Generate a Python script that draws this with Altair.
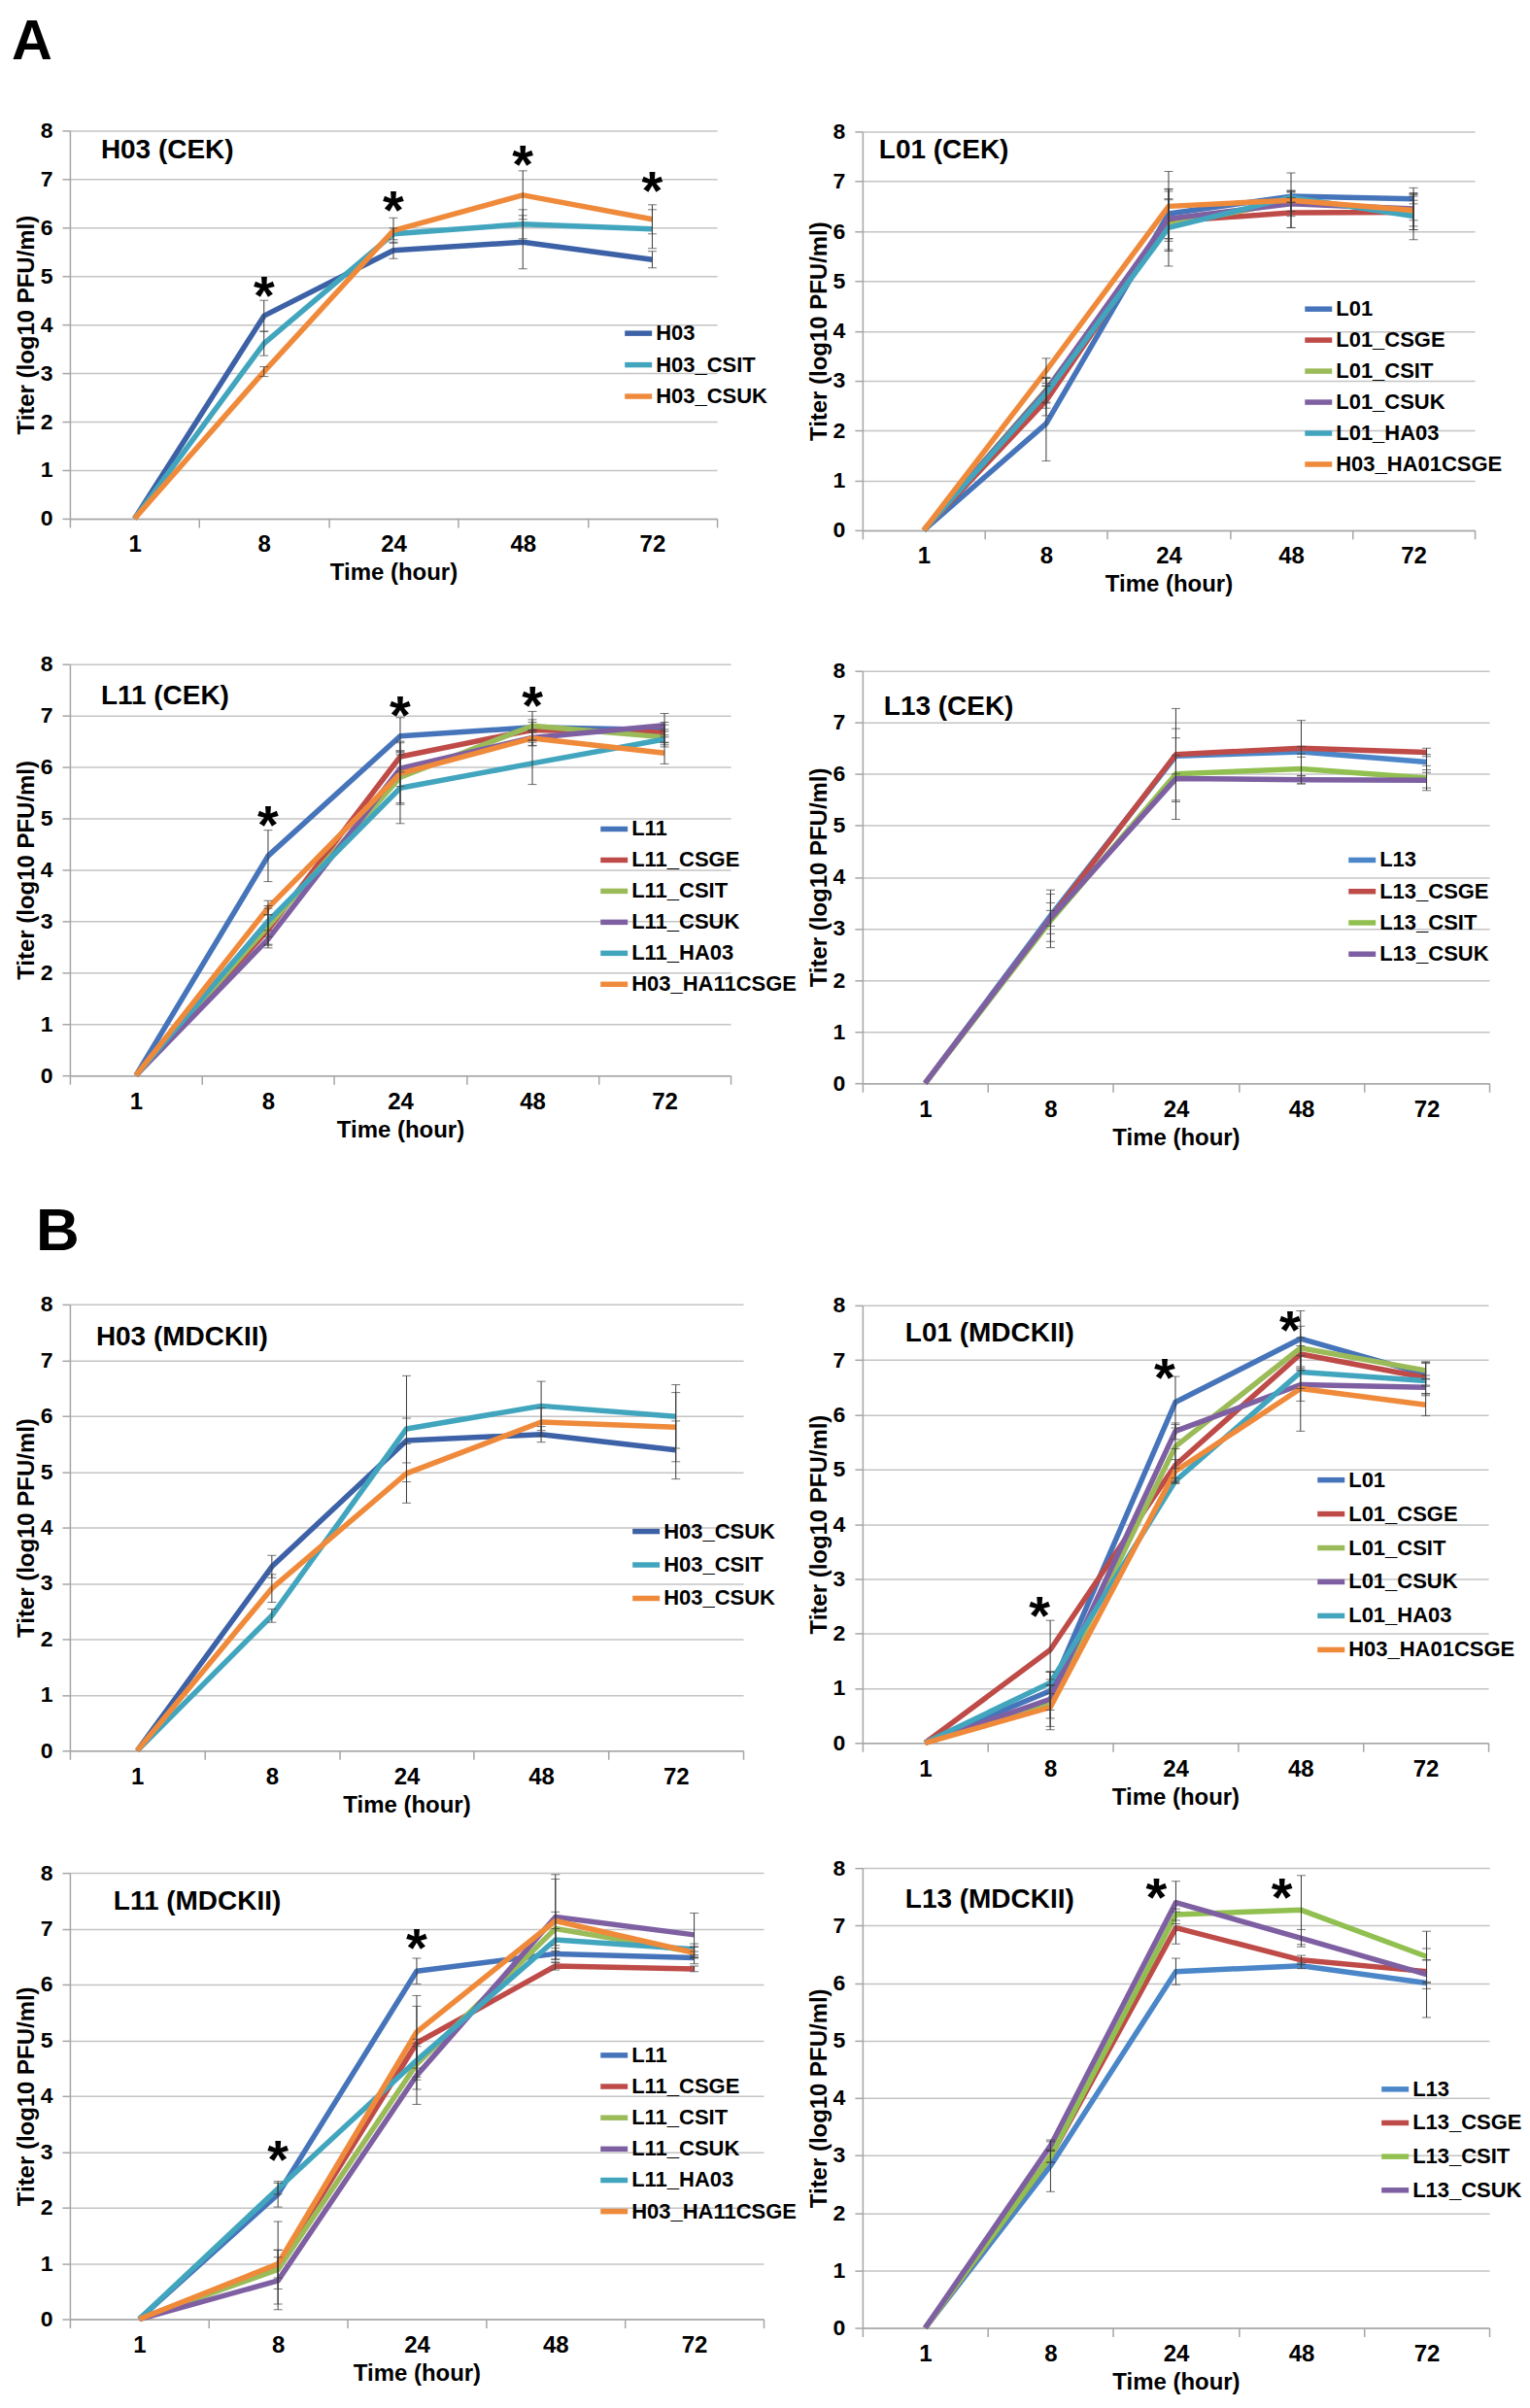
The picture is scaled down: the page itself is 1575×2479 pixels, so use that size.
import altair as alt
import pandas as pd

FONT = "Liberation Sans, Arial, sans-serif"

times = ["1", "8", "24", "48", "72"]
x_title = "Time (hour)"
y_title = "Titer (log10 PFU/ml)"

DARKBLUE = "#3C61A6"
BLUE = "#4674BA"
SKY = "#4A86C8"
RED = "#BE4B48"
GREEN = "#9BBB59"
LIME = "#92C050"
PURPLE = "#7E60A2"
AQUA = "#42A5BE"
ORANGE = "#F08A3B"
ERR = "#3A3A3A"
GRID = "#C4C4C4"
AXIS = "#A6A6A6"
THICK = 5.5
THIN = 2

# ---------------- A1  H03 (CEK)
a1_series = ["H03", "H03_CSIT", "H03_CSUK"]
a1_H03 = [0, 4.18, 5.53, 5.70, 5.34]
a1_H03_sd = [0, 0.32, 0.17, 0.55, 0.17]
a1_CSIT = [0, 3.61, 5.87, 6.07, 5.97]
a1_CSIT_sd = [0, 0.25, 0.12, 0.30, 0.40]
a1_CSUK = [0, 3.03, 5.94, 6.67, 6.17]
a1_CSUK_sd = [0, 0.10, 0.26, 0.50, 0.30]
a1_star_t = ["8", "24", "48", "72"]
a1_star_y = [4.85, 6.60, 7.55, 7.00]

# ---------------- A2  L01 (CEK)
a2_series = ["L01", "L01_CSGE", "L01_CSIT", "L01_CSUK", "L01_HA03", "H03_HA01CSGE"]
a2_L01 = [0, 2.14, 6.35, 6.70, 6.65]
a2_L01_sd = [0, 0.75, 0.50, 0.12, 0.10]
a2_CSGE = [0, 2.60, 6.20, 6.37, 6.38]
a2_CSGE_sd = [0, 0.30, 0.60, 0.30, 0.35]
a2_CSIT = [0, 2.82, 6.13, 6.60, 6.40]
a2_CSIT_sd = [0, 0.25, 0.50, 0.20, 0.30]
a2_CSUK = [0, 2.80, 6.25, 6.55, 6.45]
a2_CSUK_sd = [0, 0.25, 0.40, 0.25, 0.42]
a2_HA03 = [0, 2.75, 6.07, 6.68, 6.30]
a2_HA03_sd = [0, 0.30, 0.77, 0.10, 0.47]
a2_HA01CSGE = [0, 3.20, 6.50, 6.62, 6.42]
a2_HA01CSGE_sd = [0, 0.25, 0.70, 0.55, 0.20]

# ---------------- A3  L11 (CEK)
a3_series = ["L11", "L11_CSGE", "L11_CSIT", "L11_CSUK", "L11_HA03", "H03_HA11CSGE"]
a3_L11 = [0, 4.27, 6.60, 6.77, 6.72]
a3_L11_sd = [0, 0.50, 0.36, 0.10, 0.10]
a3_CSGE = [0, 2.83, 6.20, 6.72, 6.67]
a3_CSGE_sd = [0, 0.30, 0.30, 0.20, 0.20]
a3_CSIT = [0, 2.90, 5.80, 6.80, 6.58]
a3_CSIT_sd = [0, 0.35, 0.50, 0.28, 0.15]
a3_CSUK = [0, 2.65, 5.97, 6.57, 6.81]
a3_CSUK_sd = [0, 0.17, 0.35, 0.15, 0.23]
a3_HA03 = [0, 3.00, 5.59, 6.07, 6.54]
a3_HA03_sd = [0, 0.30, 0.69, 0.41, 0.15]
a3_HA11CSGE = [0, 3.26, 5.87, 6.56, 6.27]
a3_HA11CSGE_sd = [0, 0.14, 0.60, 0.15, 0.21]
a3_star_t = ["8", "24", "48"]
a3_star_y = [5.10, 7.24, 7.42]

# ---------------- A4  L13 (CEK)
a4_series = ["L13", "L13_CSGE", "L13_CSIT", "L13_CSUK"]
a4_L13 = [0, 3.25, 6.35, 6.43, 6.23]
a4_L13_sd = [0, 0.50, 0.35, 0.10, 0.15]
a4_CSGE = [0, 3.20, 6.38, 6.50, 6.42]
a4_CSGE_sd = [0, 0.15, 0.89, 0.54, 0.08]
a4_CSIT = [0, 3.15, 6.00, 6.10, 5.92]
a4_CSIT_sd = [0, 0.52, 0.88, 0.29, 0.24]
a4_CSUK = [0, 3.20, 5.91, 5.89, 5.88]
a4_CSUK_sd = [0, 0.30, 0.45, 0.08, 0.15]

# ---------------- B1  H03 (MDCKII)
b1_series = ["H03", "H03_CSIT", "H03_CSUK"]
b1_labels = ["H03_CSUK", "H03_CSIT", "H03_CSUK"]
b1_H03 = [0, 3.30, 5.56, 5.67, 5.39]
b1_H03_sd = [0, 0.20, 0.40, 0.14, 0.52]
b1_CSIT = [0, 2.42, 5.77, 6.18, 5.99]
b1_CSIT_sd = [0, 0.12, 0.95, 0.44, 0.57]
b1_CSUK = [0, 2.91, 4.97, 5.89, 5.80]
b1_CSUK_sd = [0, 0.25, 0.53, 0.25, 0.62]

# ---------------- B2  L01 (MDCKII)
b2_series = ["L01", "L01_CSGE", "L01_CSIT", "L01_CSUK", "L01_HA03", "H03_HA01CSGE"]
b2_L01 = [0, 0.95, 6.23, 7.39, 6.74]
b2_L01_sd = [0, 0.35, 0.47, 0.51, 0.20]
b2_CSGE = [0, 1.70, 5.08, 7.11, 6.68]
b2_CSGE_sd = [0, 0.54, 0.30, 0.30, 0.29]
b2_CSIT = [0, 0.75, 5.42, 7.22, 6.81]
b2_CSIT_sd = [0, 0.30, 0.40, 0.40, 0.15]
b2_CSUK = [0, 0.80, 5.70, 6.55, 6.50]
b2_CSUK_sd = [0, 0.50, 0.15, 0.30, 0.15]
b2_HA03 = [0, 1.10, 4.79, 6.78, 6.62]
b2_HA03_sd = [0, 0.20, 0.05, 0.30, 0.10]
b2_HA01CSGE = [0, 0.65, 4.97, 6.48, 6.18]
b2_HA01CSGE_sd = [0, 0.41, 0.21, 0.78, 0.20]
b2_star_t = ["8", "24", "48"]
b2_star_y = [2.55, 6.89, 7.77]

# ---------------- B3  L11 (MDCKII)
b3_series = ["L11", "L11_CSGE", "L11_CSIT", "L11_CSUK", "L11_HA03", "H03_HA11CSGE"]
b3_L11 = [0, 2.24, 6.24, 6.55, 6.48]
b3_L11_sd = [0, 0.23, 0.23, 0.10, 0.11]
b3_CSGE = [0, 0.96, 4.95, 6.33, 6.28]
b3_CSGE_sd = [0, 0.79, 0.66, 0.07, 0.05]
b3_CSIT = [0, 0.89, 4.57, 7.00, 6.58]
b3_CSIT_sd = [0, 0.35, 0.45, 0.30, 0.10]
b3_CSUK = [0, 0.69, 4.37, 7.21, 6.89]
b3_CSUK_sd = [0, 0.42, 0.52, 0.76, 0.39]
b3_HA03 = [0, 2.34, 4.64, 6.80, 6.63]
b3_HA03_sd = [0, 0.10, 0.30, 0.20, 0.10]
b3_HA11CSGE = [0, 0.99, 5.15, 7.14, 6.57]
b3_HA11CSGE_sd = [0, 0.25, 0.65, 0.75, 0.10]
b3_star_t = ["8", "24"]
b3_star_y = [3.07, 6.87]

# ---------------- B4  L13 (MDCKII)
b4_series = ["L13", "L13_CSGE", "L13_CSIT", "L13_CSUK"]
b4_L13 = [0, 2.82, 6.20, 6.30, 6.00]
b4_L13_sd = [0, 0.45, 0.23, 0.05, 0.60]
b4_CSGE = [0, 2.98, 6.96, 6.40, 6.20]
b4_CSGE_sd = [0, 0.10, 0.28, 0.08, 0.20]
b4_CSIT = [0, 2.98, 7.19, 7.27, 6.46]
b4_CSIT_sd = [0, 0.10, 0.10, 0.60, 0.44]
b4_CSUK = [0, 3.17, 7.40, 6.78, 6.15]
b4_CSUK_sd = [0, 0.07, 0.37, 0.15, 0.25]
b4_star_t = ["24", "48"]
b4_star_y = [7.69, 7.69]


def make_panel(p):
    rows = []
    for key, vals, sds in zip(p["series"], p["values"], p["sds"]):
        for i, (t, v, e) in enumerate(zip(times, vals, sds)):
            rows.append(dict(series=key, time=t, idx=i, value=v, sd=e, lo=v - e, hi=v + e))
    df = pd.DataFrame(rows)

    xenc = alt.X(
        "time:O", sort=times, bandPosition=0.5,
        scale=alt.Scale(type="band", paddingInner=0, paddingOuter=0),
        axis=alt.Axis(title=x_title, labelAngle=0, tickBand="extent", grid=False,
                      domainColor=AXIS, domainWidth=1.5, tickColor=AXIS, tickWidth=1.5,
                      tickSize=9, labelFont=FONT, labelFontSize=24, labelFontWeight="bold",
                      labelColor="black", labelPadding=6, titleFont=FONT, titleFontSize=24,
                      titleFontWeight="bold", titleColor="black", titlePadding=5),
    )
    yscale = alt.Scale(domain=[0, 8], nice=False, range=[p["h"], p["top"]])
    yaxis = alt.Axis(title=y_title, values=list(range(9)), grid=True, gridColor=GRID,
                     gridWidth=1.5, domainColor=AXIS, domainWidth=1.5, tickColor=AXIS,
                     tickWidth=1.5, tickSize=8, labelFont=FONT, labelFontSize=23,
                     labelFontWeight="bold", labelColor="black", labelPadding=10,
                     labelFlush=False, titleFont=FONT, titleFontSize=24,
                     titleFontWeight="bold", titleColor="black", titlePadding=2)

    extra = {}
    labels = p.get("labels")
    if labels:
        expr = "datum.label"
        for k, lab in zip(p["series"], labels):
            if k != lab:
                expr = f"datum.label == '{k}' ? '{lab}' : ({expr})"
        extra["labelExpr"] = expr
    leg = alt.Legend(orient="none", legendX=p["lx"], legendY=p["ly"], title=None,
                     symbolType="stroke", symbolSize=784, labelFont=FONT, labelFontSize=22,
                     labelFontWeight="bold", labelColor="black", labelOffset=1,
                     labelLimit=400, rowPadding=p["rp"], padding=0, **extra)
    color = alt.Color("series:N", scale=alt.Scale(domain=p["series"], range=p["colors"]), legend=leg)
    sw = alt.StrokeWidth("series:N", scale=alt.Scale(domain=p["series"], range=p["widths"]), legend=leg)

    lines = alt.Chart(df).mark_line(strokeJoin="round").encode(
        x=xenc, y=alt.Y("value:Q", scale=yscale, axis=yaxis),
        color=color, strokeWidth=sw, order=alt.Order("idx:Q"))
    rules = alt.Chart(df).transform_filter("datum.sd > 0").mark_rule(color=ERR, strokeWidth=1).encode(
        x=xenc, y=alt.Y("lo:Q", scale=yscale, axis=yaxis), y2="hi:Q")
    caps = (alt.Chart(df).transform_filter("datum.sd > 0")
            .transform_fold(["lo", "hi"], as_=["k", "cap"])
            .mark_tick(color=ERR, orient="horizontal", size=9, thickness=1)
            .encode(x=xenc, y=alt.Y("cap:Q", scale=yscale, axis=yaxis)))
    layers = [lines, rules, caps]
    if p.get("star_t"):
        sdf = pd.DataFrame({"time": p["star_t"], "y": p["star_y"]})
        stars = alt.Chart(sdf).mark_text(text="*", font=FONT, fontSize=56, fontWeight="bold",
                                         color="black", baseline="middle", dy=14,
                                         dx=p.get("star_dx", 0)).encode(
            x=xenc, y=alt.Y("y:Q", scale=yscale, axis=yaxis))
        layers.append(stars)
    title = alt.Chart(pd.DataFrame({"t": [p["title"]]})).mark_text(
        align="left", baseline="middle", font=FONT, fontSize=28, fontWeight="bold",
        color="black").encode(x=alt.value(p["tx"]), y=alt.value(p["ty"]), text="t:N")
    layers.append(title)
    if p.get("letter"):
        lx, ly, lsize = p["letter_pos"]
        letter = alt.Chart(pd.DataFrame({"t": [p["letter"]]})).mark_text(
            align="left", baseline="alphabetic", font=FONT, fontSize=lsize, fontWeight="bold",
            color="black").encode(x=alt.value(lx), y=alt.value(ly), text="t:N")
        layers.append(letter)
    return alt.layer(*layers).properties(width=p["w"], height=p["h"])


W6 = [THICK] * 6
panels = [
    dict(title="H03 (CEK)", series=a1_series, colors=[DARKBLUE, AQUA, ORANGE], widths=[THICK] * 3,
         values=[a1_H03, a1_CSIT, a1_CSUK], sds=[a1_H03_sd, a1_CSIT_sd, a1_CSUK_sd],
         star_t=a1_star_t, star_y=a1_star_y, w=667, h=525, top=125, lx=569, ly=317, rp=4.5,
         tx=32, ty=146, letter="A", letter_pos=(-60, 51, 58)),
    dict(title="L01 (CEK)", series=a2_series, colors=[BLUE, RED, GREEN, PURPLE, AQUA, ORANGE],
         widths=[THICK, THICK, THIN, THIN, THICK, THICK],
         values=[a2_L01, a2_CSGE, a2_CSIT, a2_CSUK, a2_HA03, a2_HA01CSGE],
         sds=[a2_L01_sd, a2_CSGE_sd, a2_CSIT_sd, a2_CSUK_sd, a2_HA03_sd, a2_HA01CSGE_sd],
         w=631, h=537, top=126, lx=453, ly=292, rp=4, tx=17, ty=146),
    dict(title="L11 (CEK)", series=a3_series, colors=[BLUE, RED, GREEN, PURPLE, AQUA, ORANGE],
         widths=W6, values=[a3_L11, a3_CSGE, a3_CSIT, a3_CSUK, a3_HA03, a3_HA11CSGE],
         sds=[a3_L11_sd, a3_CSGE_sd, a3_CSIT_sd, a3_CSUK_sd, a3_HA03_sd, a3_HA11CSGE_sd],
         star_t=a3_star_t, star_y=a3_star_y, w=681, h=562, top=138, lx=544, ly=291, rp=4,
         tx=32, ty=171),
    dict(title="L13 (CEK)", series=a4_series, colors=[SKY, RED, LIME, PURPLE], widths=[THICK] * 4,
         values=[a4_L13, a4_CSGE, a4_CSIT, a4_CSUK],
         sds=[a4_L13_sd, a4_CSGE_sd, a4_CSIT_sd, a4_CSUK_sd],
         w=646, h=570, top=145, lx=498, ly=323, rp=4.3, tx=22, ty=182),
    dict(title="H03 (MDCKII)", series=b1_series, labels=b1_labels, colors=[DARKBLUE, AQUA, ORANGE],
         widths=[THICK] * 3, values=[b1_H03, b1_CSIT, b1_CSUK],
         sds=[b1_H03_sd, b1_CSIT_sd, b1_CSUK_sd],
         w=694, h=688, top=228, lx=577, ly=445, rp=6.5, tx=27, ty=262,
         letter="B", letter_pos=(-35, 172, 62)),
    dict(title="L01 (MDCKII)", series=b2_series, colors=[BLUE, RED, GREEN, PURPLE, AQUA, ORANGE],
         widths=W6, values=[b2_L01, b2_CSGE, b2_CSIT, b2_CSUK, b2_HA03, b2_HA01CSGE],
         sds=[b2_L01_sd, b2_CSGE_sd, b2_CSIT_sd, b2_CSUK_sd, b2_HA03_sd, b2_HA01CSGE_sd],
         star_t=b2_star_t, star_y=b2_star_y, star_dx=-11, w=645, h=680, top=229, lx=466,
         ly=392, rp=7, tx=44, ty=258),
    dict(title="L11 (MDCKII)", series=b3_series, colors=[BLUE, RED, GREEN, PURPLE, AQUA, ORANGE],
         widths=[THICK, THICK, THIN, THICK, THICK, THICK],
         values=[b3_L11, b3_CSGE, b3_CSIT, b3_CSUK, b3_HA03, b3_HA11CSGE],
         sds=[b3_L11_sd, b3_CSGE_sd, b3_CSIT_sd, b3_CSUK_sd, b3_HA03_sd, b3_HA11CSGE_sd],
         star_t=b3_star_t, star_y=b3_star_y, w=715, h=586, top=126, lx=544, ly=297, rp=4.2,
         tx=45, ty=156),
    dict(title="L13 (MDCKII)", series=b4_series, colors=[SKY, RED, LIME, PURPLE], widths=[THICK] * 4,
         values=[b4_L13, b4_CSGE, b4_CSIT, b4_CSUK],
         sds=[b4_L13_sd, b4_CSGE_sd, b4_CSIT_sd, b4_CSUK_sd],
         star_t=b4_star_t, star_y=b4_star_y, star_dx=-20, w=646, h=595, top=121, lx=532,
         ly=332, rp=6.7, tx=44, ty=154),
]

chart = alt.concat(*[make_panel(p) for p in panels], columns=2, bounds="flush",
                   spacing={"row": 0, "column": 102}) \
    .resolve_scale(x="independent", y="independent", color="independent", strokeWidth="independent") \
    .resolve_legend(color="independent", strokeWidth="independent") \
    .properties(padding={"left": 4, "top": 0, "right": 0, "bottom": 0}) \
    .configure_view(stroke=None)

chart.save("out.html", embed_options={"renderer": "svg", "actions": False})
